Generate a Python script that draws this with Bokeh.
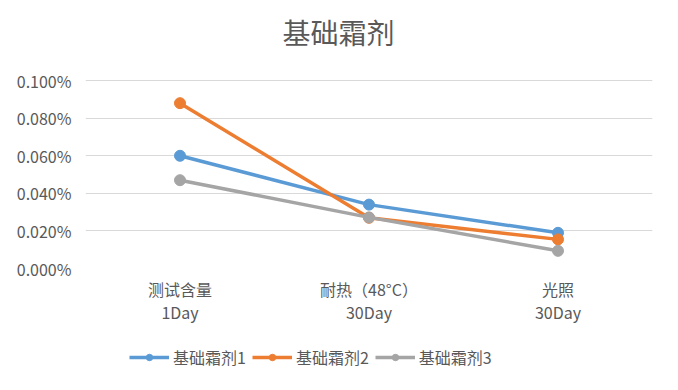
from bokeh.plotting import figure
from bokeh.models import FactorRange, Range1d, FixedTicker, PrintfTickFormatter, Legend, LegendItem, Label
from bokeh.layouts import column
from bokeh.embed import file_html
from bokeh.resources import INLINE

title = "基础霜剂"
categories = ["测试含量\n1Day", "耐热（48°C）\n30Day", "光照\n30Day"]
series_names = ["基础霜剂1", "基础霜剂2", "基础霜剂3"]
s1 = [0.060, 0.034, 0.019]
s2 = [0.088, 0.027, 0.0155]
s3 = [0.047, 0.0272, 0.0094]
y_ticks = [0.0, 0.02, 0.04, 0.06, 0.08, 0.10]
colors = ["#5B9BD5", "#ED7D31", "#A5A5A5"]

FONT = "Noto Sans CJK SC"
TXT = "#595959"


def strip(h):
    f = figure(width=678, height=h, output_backend="svg", toolbar_location=None,
               x_range=Range1d(85, 652), y_range=Range1d(0, h),
               x_axis_type=None, y_axis_type=None,
               min_border_left=85, min_border_right=26, min_border_top=0, min_border_bottom=0)
    f.outline_line_color = None
    f.xgrid.grid_line_color = None
    f.ygrid.grid_line_color = None
    return f


# title strip
p0 = strip(65)
p0.add_layout(Label(x=338, y=65 - 31, text=title, text_align="center", text_baseline="middle",
                    text_font=FONT, text_font_size="28px", text_color=TXT))

# main chart
p = figure(width=678, height=270, output_backend="svg", toolbar_location=None,
           x_range=FactorRange(factors=categories), y_range=Range1d(0, 0.1006),
           min_border_left=85, min_border_right=26, min_border_top=14, min_border_bottom=67)
p.outline_line_color = None

for name, vals, c in zip(series_names, [s1, s2, s3], colors):
    p.line(categories, vals, line_color=c, line_width=3.5)
    p.scatter(categories, vals, size=11, fill_color=c, line_color=c)

p.yaxis.ticker = FixedTicker(ticks=y_ticks)
p.yaxis.formatter = PrintfTickFormatter(format="%.3f%%")
p.yaxis.axis_line_color = None
p.yaxis.major_tick_line_color = None
p.yaxis.minor_tick_line_color = None
p.yaxis.major_label_text_font = FONT
p.yaxis.major_label_text_font_size = "16px"
p.yaxis.major_label_text_color = TXT
p.yaxis.major_label_standoff = 8

p.xaxis.axis_line_color = None
p.xaxis.major_tick_line_color = None
p.xaxis.major_label_text_font = FONT
p.xaxis.major_label_text_font_size = "16px"
p.xaxis.major_label_text_color = TXT
p.xaxis.major_label_text_line_height = 0.97
p.xaxis.major_label_standoff = 2

p.xgrid.grid_line_color = None
p.ygrid.grid_line_color = "#D9D9D9"
p.ygrid.grid_line_width = 1

# legend strip below the chart
p2 = strip(55)
items = []
for name, c in zip(series_names, colors):
    r1 = p2.line(x=[-1000, -999], y=[-1000, -999], line_color=c, line_width=3.5)
    r2 = p2.scatter(x=[-1000], y=[-1000], size=11, fill_color=c, line_color=c)
    items.append(LegendItem(label=name, renderers=[r1, r2]))
legend = Legend(items=items, orientation="horizontal", location=(44, 21),
                label_text_font=FONT, label_text_font_size="16px", label_text_color=TXT,
                glyph_width=40, glyph_height=16, label_standoff=4, spacing=6,
                padding=0, margin=0, border_line_color=None, background_fill_alpha=0)
p2.add_layout(legend, "center")

layout = column(p0, p, p2, spacing=0)
html = file_html(layout, INLINE)
html = html.replace("<head>", "<head><style>html,body{margin:0;padding:0;overflow:hidden;}</style>", 1)
open("out.html", "w").write(html)
